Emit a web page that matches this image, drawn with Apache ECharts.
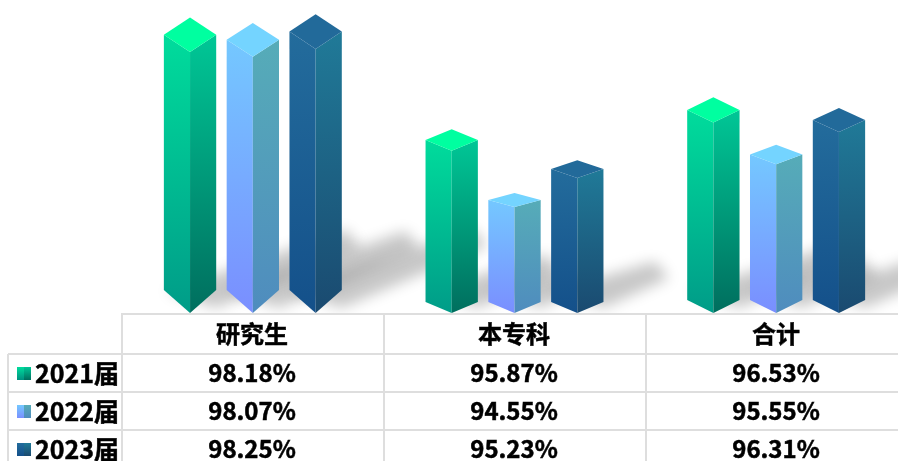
<!DOCTYPE html>
<html><head><meta charset="utf-8">
<style>html,body{margin:0;padding:0;background:#fff}#c{width:898px;height:461px}</style>
<script src="https://cdn.jsdelivr.net/npm/echarts@6/dist/echarts.min.js"></script>
</head><body><div id="c"></div>
<script>
const categories = ['研究生', '本专科', '合计'];
const seriesNames = ['2021届', '2022届', '2023届'];
const values2021 = [98.18, 95.87, 96.53];
const values2022 = [98.07, 94.55, 95.55];
const values2023 = [98.25, 95.23, 96.31];
const baseValue = 92.07;

const allValues = [values2021, values2022, values2023];
const bottomSlant = [23, 11, 13];
const FONT = '"Noto Sans CJK SC","Noto Sans",sans-serif';
const LINE = '#dedede';
const palette = [
  {lt:'#00dc9c', lb:'#009c88', rt:'#00c796', rb:'#006e5e', top:'#00ffa0', mini:['#00d29a','#009080']},
  {lt:'#74c8ff', lb:'#7a8eff', rt:'#56acb8', rb:'#4f8cbe', top:'#74d4ff', mini:['#7ab8ff','#7a90ff']},
  {lt:'#236c9c', lb:'#14508a', rt:'#207a98', rb:'#1a4a70', top:'#226a9a', mini:['#20689a','#14508a']}
];
const grad = (a, b) => ({type:'linear', x:0, y:0, x2:0, y2:1, colorStops:[{offset:0,color:a},{offset:1,color:b}]});

function geom(api, si) {
  const cat = api.value(0), v = api.value(1);
  const band = api.size([1, 0])[0];
  const top = api.coord([cat, v]);
  const base = api.coord([cat, baseValue]);
  const cx = top[0] + (si - 1) * band * 0.24;
  return {cx, half: band * 0.1, yt: top[1], yb: base[1], h: base[1] - top[1], cat};
}
function barItem(si) {
  return function (params, api) {
    const g = geom(api, si), c = palette[si];
    const dt = g.h * 0.066, db = bottomSlant[g.cat];
    const L = g.cx - g.half, R = g.cx + g.half, X = g.cx;
    return {type:'group', children:[
      {type:'polygon', shape:{points:[[L,g.yt-dt],[X,g.yt],[X,g.yb],[L,g.yb-db]]}, style:{fill:grad(c.lt,c.lb)}},
      {type:'polygon', shape:{points:[[X,g.yt],[R,g.yt-dt],[R,g.yb-db],[X,g.yb]]}, style:{fill:grad(c.rt,c.rb)}},
      {type:'polygon', shape:{points:[[X,g.yt-2*dt],[R,g.yt-dt],[X,g.yt],[L,g.yt-dt]]}, style:{fill:c.top}}
    ]};
  };
}
function shadowItem(si) {
  return function (params, api) {
    const g = geom(api, si);
    const off = 3000;
    const tx = g.cx + 0.62 * g.h, ty = g.yb - 10 - 0.25 * g.h;
    const pts = [[g.cx-24,g.yb-22],[g.cx+26,g.yb-5],[tx+8,ty+9],[tx-6,ty-8]].map(p => [p[0]-off, p[1]]);
    return {type:'polygon', shape:{points:pts}, style:{fill:'#000', shadowColor:'rgba(0,0,0,0.22)', shadowBlur:14, shadowOffsetX:off}};
  };
}

const series = [];
seriesNames.forEach((name, si) => {
  const data = allValues[si].map((v, i) => [i, v]);
  series.push({type:'custom', name:name+'阴影', z:1, silent:true, renderItem:shadowItem(si), data, clip:false});
});
seriesNames.forEach((name, si) => {
  const data = allValues[si].map((v, i) => [i, v]);
  series.push({type:'custom', name, z:2, renderItem:barItem(si), data, clip:false});
});

/* table under the bars */
const colX = [122, 384, 646, 908];
const rowY = [314, 354, 392, 430, 468];
const gfx = [];
gfx.push({type:'rect', z:10, shape:{x:0,y:315,width:898,height:146}, style:{fill:'#fff'}});
const ln = (x1,y1,x2,y2) => gfx.push({type:'line', z:11, shape:{x1,y1,x2,y2}, style:{stroke:LINE, lineWidth:2}});
ln(121, rowY[0], 898, rowY[0]);
ln(8, rowY[1], 898, rowY[1]);
ln(8, rowY[2], 898, rowY[2]);
ln(8, rowY[3], 898, rowY[3]);
ln(8, rowY[1], 8, 461);
colX.slice(0,3).forEach(x => ln(x, rowY[0], x, 461));
const txt = (text,x,y,align,size) => gfx.push({type:'text', z:12, x, y, style:{text, fill:'#000', stroke:'#000', lineWidth:0.5, font:'bold '+size+'px '+FONT, align, verticalAlign:'middle'}});
categories.forEach((c,i) => txt(c, (colX[i]+colX[i+1])/2 - 1, 334, 'center', 24));
const rowCenter = [373, 411, 449];
seriesNames.forEach((name, si) => {
  const y = rowCenter[si], c = palette[si];
  gfx.push({type:'rect', z:12, shape:{x:17,y:y-6,width:7,height:13}, style:{fill:grad(c.lt,c.mini[1])}});
  gfx.push({type:'rect', z:12, shape:{x:24,y:y-6,width:7,height:13}, style:{fill:grad(c.rt,c.rb)}});
  txt(name, 35, y, 'left', 25);
  allValues[si].forEach((v,i) => txt(v.toFixed(2)+'%', (colX[i]+colX[i+1])/2 - 1, y, 'center', 24));
});

const chart = echarts.init(document.getElementById('c'), null, {renderer:'canvas'});
chart.setOption({
  animation:false,
  backgroundColor:'#fff',
  grid:{left:122, top:17, width:785, height:299, outerBoundsMode:'none'},
  xAxis:{type:'category', data:categories, show:false},
  yAxis:{type:'value', min:92, max:99, show:false},
  series,
  graphic:{elements:gfx}
});
</script></body></html>
